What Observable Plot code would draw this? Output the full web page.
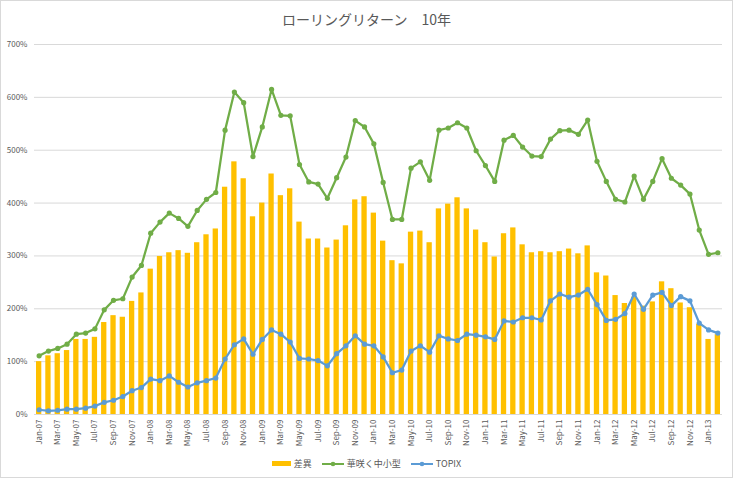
<!DOCTYPE html>
<html><head><meta charset="utf-8">
<script src="https://cdn.jsdelivr.net/npm/d3@7"></script>
<script src="https://cdn.jsdelivr.net/npm/@observablehq/plot@0.6"></script>
<style>
body{margin:0;background:#fff;font-family:"Noto Sans CJK JP","Noto Sans",sans-serif;}
#chart{position:relative;width:731px;height:476px;border:1px solid #d9d9d9;overflow:hidden;background:#fff;}
#title{height:33px;text-align:center;font-size:14px;color:#595959;line-height:36px;}
#legend{display:flex;justify-content:center;align-items:center;gap:10px;font-size:9px;color:#595959;margin-top:3px;}
#legend .it{display:flex;align-items:center;gap:3px;}
#legend .sw{display:inline-block;width:19px;height:5px;background:#FFC000;}
#legend svg{display:block;}
</style></head><body>
<div id="chart">
<div id="title">ローリングリターン　10年</div>
<div id="plot"></div>
<div id="legend"></div>
</div>
<script>
const months = ["Jan-07","Feb-07","Mar-07","Apr-07","May-07","Jun-07","Jul-07","Aug-07","Sep-07","Oct-07","Nov-07","Dec-07",
"Jan-08","Feb-08","Mar-08","Apr-08","May-08","Jun-08","Jul-08","Aug-08","Sep-08","Oct-08","Nov-08","Dec-08",
"Jan-09","Feb-09","Mar-09","Apr-09","May-09","Jun-09","Jul-09","Aug-09","Sep-09","Oct-09","Nov-09","Dec-09",
"Jan-10","Feb-10","Mar-10","Apr-10","May-10","Jun-10","Jul-10","Aug-10","Sep-10","Oct-10","Nov-10","Dec-10",
"Jan-11","Feb-11","Mar-11","Apr-11","May-11","Jun-11","Jul-11","Aug-11","Sep-11","Oct-11","Nov-11","Dec-11",
"Jan-12","Feb-12","Mar-12","Apr-12","May-12","Jun-12","Jul-12","Aug-12","Sep-12","Oct-12","Nov-12","Dec-12",
"Jan-13","Feb-13"];
const diffValues = [100,111,115,121,142,142,146,174,187,184,214,230,
275,299,306,310,305,325,340,351,430,478,446,374,
400,455,414,427,364,332,332,315,330,357,406,412,
381,328,291,285,345,347,325,389,398,410,389,349,
325,298,342,353,321,306,308,306,308,313,304,319,
268,262,225,210,222,205,213,251,238,211,202,171,
142,151];
const hanasakuValues = [111,120,125,133,152,154,162,198,216,219,260,282,
343,364,381,371,356,386,407,420,538,610,590,488,
544,615,566,565,473,440,436,409,448,487,556,544,
512,439,369,369,466,478,443,538,542,552,542,499,
471,441,519,528,506,489,488,521,537,538,530,557,
479,441,407,402,451,407,441,484,447,434,417,349,
303,306];
const topixValues = [9,7,8,10,10,12,16,23,27,34,45,51,
67,64,73,61,52,60,64,69,105,132,143,114,
142,160,152,137,106,105,102,92,115,130,149,133,
130,109,79,84,120,130,118,149,143,140,152,150,
147,142,177,175,183,183,179,215,228,222,226,237,
208,178,180,191,228,199,226,231,206,223,215,173,
160,154];
const tickLabels = months.filter((m, i) => i % 2 === 0);
const yTicks = [0,100,200,300,400,500,600,700];
const seriesNames = ["差異","華咲く中小型","TOPIX"];
const colors = ["#FFC000","#70AD47","#5B9BD5"];

const data = months.map((m, i) => ({month: m, diff: diffValues[i], hana: hanasakuValues[i], topix: topixValues[i]}));

const chart = Plot.plot({
  width: 731,
  height: 420,
  marginLeft: 33,
  marginRight: 10,
  marginTop: 10,
  marginBottom: 40,
  style: {fontFamily: '"Noto Sans CJK JP","Noto Sans",sans-serif', fontSize: "8px", color: "#595959", background: "#fff"},
  x: {domain: months, paddingInner: 0.43, paddingOuter: 0.215, round: false, label: null, tickFormat: d => d, ticks: tickLabels},
  y: {domain: [0, 700], label: null, ticks: yTicks, tickFormat: d => d + "%"},
  marks: [
    Plot.ruleY(yTicks.filter(d => d > 0), {stroke: "#d9d9d9", strokeWidth: 1}),
    Plot.barY(data, {x: "month", y: "diff", fill: colors[0]}),
    Plot.ruleY([0], {stroke: "#d9d9d9", strokeWidth: 1}),
    Plot.axisY({ticks: yTicks, tickFormat: d => d + "%", tickSize: 0, tickPadding: 7, label: null, fill: "#595959"}),
    Plot.axisX({ticks: tickLabels, tickRotate: -90, tickSize: 0, tickPadding: 5, label: null, fill: "#595959"}),
    Plot.lineY(data, {x: "month", y: "hana", stroke: colors[1], strokeWidth: 2.25}),
    Plot.dot(data, {x: "month", y: "hana", fill: colors[1], r: 2.6}),
    Plot.lineY(data, {x: "month", y: "topix", stroke: colors[2], strokeWidth: 2.25}),
    Plot.dot(data, {x: "month", y: "topix", fill: colors[2], r: 2.6})
  ]
});
document.getElementById("plot").appendChild(chart);

const legend = document.getElementById("legend");
seriesNames.forEach((name, i) => {
  const it = document.createElement("span");
  it.className = "it";
  if (i === 0) {
    it.innerHTML = `<span class="sw"></span><span>${name}</span>`;
  } else {
    it.innerHTML = `<svg width="22" height="8"><line x1="0" y1="4" x2="22" y2="4" stroke="${colors[i]}" stroke-width="2"/><circle cx="11" cy="4" r="2.3" fill="${colors[i]}"/></svg><span>${name}</span>`;
  }
  legend.appendChild(it);
});
</script>
</body></html>
